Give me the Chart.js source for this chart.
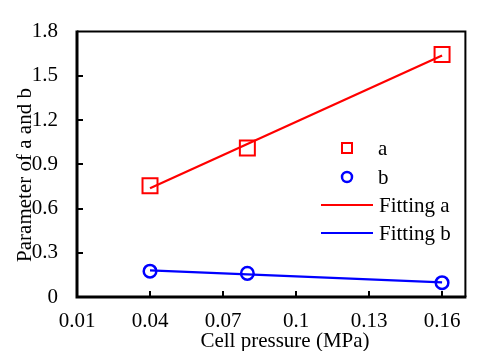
<!DOCTYPE html>
<html><head><meta charset="utf-8">
<script src="https://cdn.jsdelivr.net/npm/chart.js@4/dist/chart.umd.min.js"></script>
<style>html,body{margin:0;padding:0;background:#fff;overflow:hidden;} #wrap{width:479px;height:351px;position:relative;}</style>
</head><body><div id="wrap"><canvas id="c" width="479" height="351"></canvas></div>
<script>
// ---- data ----
const pressure = [0.04, 0.08, 0.16];
const paramA = [0.755, 1.01, 1.645];
const paramB = [0.175, 0.16, 0.097];
const fitX = [0.04, 0.16];
const fitA = [0.738, 1.638];
const fitB = [0.18, 0.099];
const xTicks = [0.01, 0.04, 0.07, 0.1, 0.13, 0.16];
const yTicks = [0, 0.3, 0.6, 0.9, 1.2, 1.5, 1.8];
const seriesLabels = ['a', 'b', 'Fitting a', 'Fitting b'];
const xTitle = 'Cell pressure (MPa)';
const yTitle = 'Parameter of a and b';

const RED = '#ff0000', BLUE = '#0000ff';
const FONT = "'Liberation Serif', 'Times New Roman', serif";
const FS = 21;
Chart.defaults.font.family = FONT;
Chart.defaults.font.size = FS;
Chart.defaults.color = '#000';

const pts = (xs, ys) => xs.map((x, i) => ({x: x, y: ys[i]}));
const fmt = v => String(Number(v.toFixed(3)));

const decor = {
  id: 'decor',
  afterDraw(chart) {
    const ctx = chart.ctx, ca = chart.chartArea;
    const xs = chart.scales.x, ys = chart.scales.y;
    ctx.save();
    ctx.strokeStyle = '#000';
    ctx.lineCap = 'butt';
    // inside ticks
    ctx.lineWidth = 2;
    xTicks.forEach(v => {
      const px = Math.round(xs.getPixelForValue(v));
      if (px <= ca.left + 2 || px >= ca.right - 2) return;
      ctx.beginPath(); ctx.moveTo(px, ca.bottom); ctx.lineTo(px, ca.bottom - 6); ctx.stroke();
    });
    yTicks.forEach(v => {
      const py = Math.round(ys.getPixelForValue(v));
      if (py <= ca.top + 2 || py >= ca.bottom - 2) return;
      ctx.beginPath(); ctx.moveTo(ca.left, py); ctx.lineTo(ca.left + 6, py); ctx.stroke();
    });
    // frame
    ctx.lineWidth = 2;
    ctx.beginPath();
    ctx.moveTo(ca.left, ca.top); ctx.lineTo(ca.right - 1, ca.top); ctx.lineTo(ca.right - 1, ca.bottom);
    ctx.stroke();
    ctx.lineWidth = 3;
    ctx.beginPath();
    ctx.moveTo(ca.left, ca.top - 1); ctx.lineTo(ca.left, ca.bottom); ctx.lineTo(ca.right, ca.bottom);
    ctx.stroke();

    // titles
    ctx.fillStyle = '#000';
    ctx.font = FS + 'px ' + FONT;
    ctx.textAlign = 'center';
    ctx.textBaseline = 'alphabetic';
    ctx.fillText(xTitle, 285, 347);
    ctx.save();
    ctx.translate(31, 175);
    ctx.rotate(-Math.PI / 2);
    ctx.fillText(yTitle, 0, 0);
    ctx.restore();

    // legend
    const ds = chart.data.datasets;
    const rows = [148, 177, 205, 233];
    ctx.textAlign = 'left';
    ctx.textBaseline = 'middle';
    ds.forEach((d, i) => {
      const y = rows[i];
      ctx.strokeStyle = d.borderColor;
      if (i === 0) {
        ctx.lineWidth = 2;
        ctx.strokeRect(342, y - 5, 10, 10);
      } else if (i === 1) {
        ctx.lineWidth = 2.5;
        ctx.beginPath(); ctx.arc(347, y, 5, 0, Math.PI * 2); ctx.stroke();
      } else {
        ctx.lineWidth = 2;
        ctx.beginPath(); ctx.moveTo(321, y); ctx.lineTo(373, y); ctx.stroke();
      }
      ctx.fillStyle = '#000';
      ctx.fillText(d.label, i < 2 ? 378 : 379, y + 1);
    });
    ctx.restore();
  }
};

new Chart(document.getElementById('c'), {
  type: 'scatter',
  data: {
    datasets: [
      {label: seriesLabels[0], data: pts(pressure, paramA), showLine: false,
       pointStyle: 'rect', pointRadius: 10.6, pointBorderWidth: 2,
       borderColor: RED, backgroundColor: 'rgba(0,0,0,0)', pointBackgroundColor: 'rgba(0,0,0,0)'},
      {label: seriesLabels[1], data: pts(pressure, paramB), showLine: false,
       pointStyle: 'circle', pointRadius: 6.3, pointBorderWidth: 2.5,
       borderColor: BLUE, backgroundColor: 'rgba(0,0,0,0)', pointBackgroundColor: 'rgba(0,0,0,0)'},
      {label: seriesLabels[2], data: pts(fitX, fitA), showLine: true, pointRadius: 0,
       borderColor: RED, borderWidth: 2.2, backgroundColor: RED},
      {label: seriesLabels[3], data: pts(fitX, fitB), showLine: true, pointRadius: 0,
       borderColor: BLUE, borderWidth: 2.2, backgroundColor: BLUE}
    ]
  },
  options: {
    responsive: false,
    animation: false,
    events: [],
    layout: {padding: {top: 15, right: 2, left: 0, bottom: 0}},
    plugins: {legend: {display: false}, tooltip: {enabled: false}, title: {display: false}},
    scales: {
      x: {
        type: 'linear', min: 0.01, max: 0.17,
        afterBuildTicks: s => { s.ticks = xTicks.map(v => ({value: v})); },
        afterFit: s => { s.height = 54; },
        grid: {display: false, drawTicks: false},
        border: {display: false},
        ticks: {autoSkip: false, maxRotation: 0, padding: 12, callback: v => fmt(v), font: {size: FS}}
      },
      y: {
        type: 'linear', min: 0, max: 1.8,
        afterBuildTicks: s => { s.ticks = yTicks.map(v => ({value: v})); },
        afterFit: s => { s.width = 77; },
        grid: {display: false, drawTicks: false},
        border: {display: false},
        ticks: {autoSkip: false, padding: 19, callback: v => fmt(v), font: {size: FS}}
      }
    }
  },
  plugins: [decor]
});
</script>
</body></html>
